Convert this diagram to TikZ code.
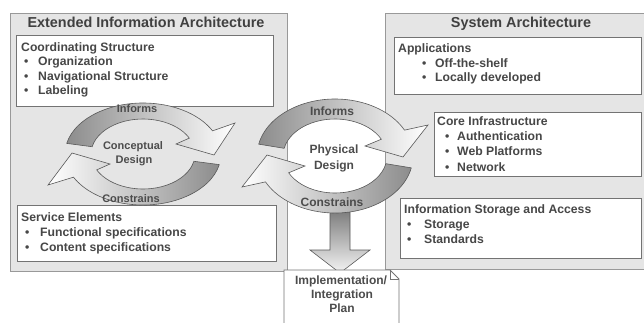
\documentclass[tikz,border=0pt]{standalone}
\usepackage{fontspec}
\setmainfont{Liberation Sans}
\begin{document}
\begin{tikzpicture}[x=1pt,y=1pt,
  panel/.style={fill=gray!20, draw=black!40, line width=0.9pt},
  box/.style={fill=white, draw=black!55, line width=0.8pt},
  ttl/.style={font=\fontsize{14.4}{16}\selectfont\bfseries, text=black!75, inner sep=0, anchor=base},
  txt/.style={font=\fontsize{12.2}{14}\selectfont\bfseries, text=black!72, anchor=base west, inner sep=0},
  lbl/.style={font=\fontsize{11}{13}\selectfont\bfseries, text=black!70, inner sep=0},
  blbl/.style={font=\fontsize{12}{14}\selectfont\bfseries, text=black!70, inner sep=0},
  arr/.style={draw=black!65, line width=0.6pt},
]
\useasboundingbox (0,0) rectangle (644,-322);
\clip (0,0) rectangle (644,-322);
% panels
\path[panel] (10,-13) rectangle (287,-271);
\path[panel] (385,-13) rectangle (660,-269);
\node[ttl] (tl) at (146,-27) {Extended Information Architecture};
\node[ttl] (tr) at (521,-27) {System Architecture};
% left boxes
\path[box] (16,-35) rectangle (273,-106);
\node[txt] (cs) at (21,-51.5) {Coordinating Structure};
\node[txt] (cs1b) at (24,-65.5) {•};\node[txt] (cs1) at (38,-65.5) {Organization};
\node[txt] (cs2b) at (24,-80.5) {•};\node[txt] (cs2) at (38,-80.5) {Navigational Structure};
\node[txt] (cs3b) at (24,-94.5) {•};\node[txt] (cs3) at (38,-94.5) {Labeling};
\path[box] (17,-205) rectangle (276,-261);
\node[txt] (se) at (21,-221.5) {Service Elements};
\node[txt] (se1b) at (25,-236.5) {•};\node[txt] (se1) at (40,-236.5) {Functional specifications};
\node[txt] (se2b) at (25,-251.5) {•};\node[txt] (se2) at (40,-251.5) {Content specifications};
% right boxes
\path[box] (394,-37) rectangle (641,-94);
\node[txt] (ap) at (398,-52.5) {Applications};
\node[txt] (ap1b) at (422,-67.5) {•};\node[txt] (ap1) at (435,-67.5) {Off-the-shelf};
\node[txt] (ap2b) at (422,-81.5) {•};\node[txt] (ap2) at (435,-81.5) {Locally developed};
\path[box] (434,-112) rectangle (641,-176);
\node[txt] (ci) at (437,-125.5) {Core Infrastructure};
\node[txt] (ci1b) at (445,-140.5) {•};\node[txt] (ci1) at (457,-140.5) {Authentication};
\node[txt] (ci2b) at (445,-155.5) {•};\node[txt] (ci2) at (457,-155.5) {Web Platforms};
\node[txt] (ci3b) at (445,-171) {•};\node[txt] (ci3) at (457,-171) {Network};
\path[box] (400,-198) rectangle (641,-258);
\node[txt] (is) at (404,-213.5) {Information Storage and Access};
\node[txt] (is1b) at (407,-228.5) {•};\node[txt] (is1) at (424,-228.5) {Storage};
\node[txt] (is2b) at (407,-243.5) {•};\node[txt] (is2) at (424,-243.5) {Standards};
% down arrow
\path[arr, top color=black!50, bottom color=gray!8]
  (330,-212) -- (350,-212) -- (350,-250) -- (370,-250) -- (340,-273) -- (310,-250) -- (330,-250) -- cycle;
% document
\path[box] (284,-270) -- (390,-270) -- (399,-279) -- (399,-330) -- (284,-330) -- cycle;
\draw[black!55, line width=0.8pt] (390,-270) -- (390,-279) -- (399,-279);
\node[blbl] (d1) at (341,-281) {Implementation/};
\node[blbl] (d2) at (342,-295) {Integration};
\node[blbl] (d3) at (342,-308.5) {Plan};
% left cycle
\node[lbl] (lc1) at (133,-147) {Conceptual};
\node[lbl] (lc2) at (134,-161) {Design};
\begin{scope}[shift={(143,-154)}]
\path[arr, left color=black!45, right color=white]
  (168:78pt and 51pt) arc[start angle=168, end angle=27, x radius=78pt, y radius=51pt]
  -- (92,31) -- (71,-1) -- (33,10) -- (27:52pt and 35pt)
  arc[start angle=27, end angle=168, x radius=52pt, y radius=35pt] -- cycle;
\path[arr, left color=white, right color=black!45]
  (-12:78pt and 51pt) arc[start angle=-12, end angle=-153, x radius=78pt, y radius=51pt]
  -- (-95,-31) -- (-71,1) -- (-33,-10) -- (-153:52pt and 35pt)
  arc[start angle=-153, end angle=-12, x radius=52pt, y radius=35pt] -- cycle;
\end{scope}
\node[lbl] (li) at (137,-109) {Informs};
\node[lbl] (lc) at (131,-199) {Constrains};
% right cycle
\begin{scope}[shift={(335,-156)}]
\path[arr, left color=black!45, right color=white]
  (168:78pt and 57pt) arc[start angle=168, end angle=27, x radius=78pt, y radius=57pt]
  -- (93,31) -- (68,-1) -- (30,10) -- (27:52pt and 37pt)
  arc[start angle=27, end angle=168, x radius=52pt, y radius=37pt] -- cycle;
\path[arr, left color=white, right color=black!45]
  (-12:78pt and 57pt) arc[start angle=-12, end angle=-153, x radius=78pt, y radius=57pt]
  -- (-93,-31) -- (-68,1) -- (-30,-10) -- (-153:52pt and 37pt)
  arc[start angle=-153, end angle=-12, x radius=52pt, y radius=37pt] -- cycle;
\end{scope}
\node[blbl] (ri) at (332,-111) {Informs};
\node[blbl] (rp1) at (334,-150) {Physical};
\node[blbl] (rp2) at (334,-166) {Design};
\node[blbl] (rc) at (332,-202) {Constrains};
\end{tikzpicture}
\end{document}
